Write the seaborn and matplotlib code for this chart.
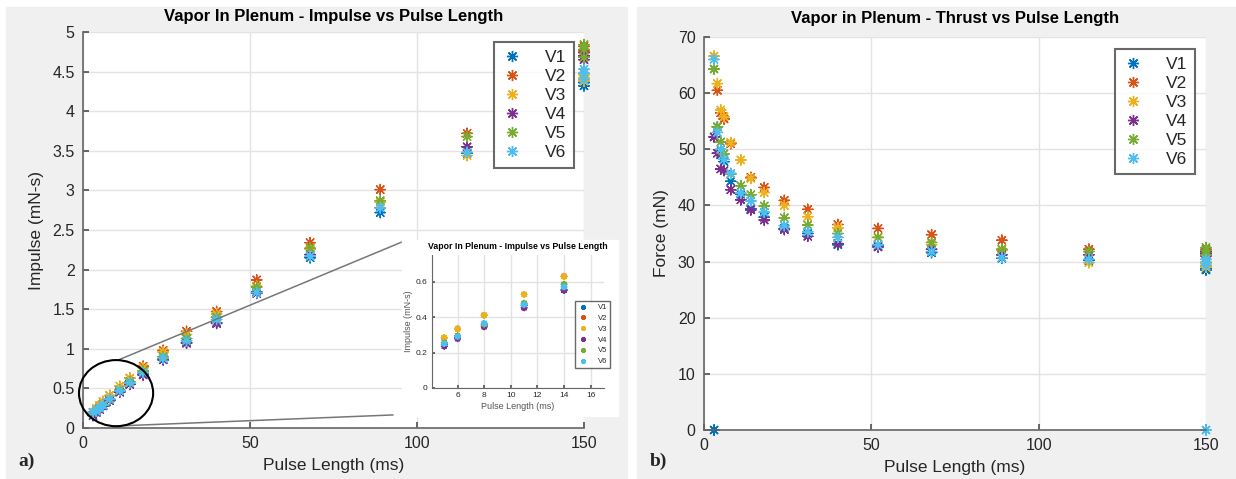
import numpy as np
import pandas as pd
import seaborn as sns
import matplotlib.pyplot as plt
from matplotlib.patches import Ellipse, Rectangle
from matplotlib.ticker import FormatStrFormatter

sns.set_theme(style='whitegrid')
plt.rcParams['font.family'] = ['Liberation Sans', 'DejaVu Sans']

series = ['V1', 'V2', 'V3', 'V4', 'V5', 'V6']
colors = ['#0072BD', '#D95319', '#EDB120', '#7E2F8E', '#77AC30', '#4DBEEE']

# pulse lengths (ms)
pulse = [3, 4, 5, 6, 8, 11, 14, 18, 24, 31, 40, 52, 68, 89, 115, 150]

# impulse (mN-s), read off panel a)
impulse_v1 = [np.nan, 0.215, 0.245, 0.285, 0.355, 0.465, 0.555, 0.68, 0.87, 1.08, 1.33, 1.72, 2.15, 2.72, 3.47, 4.32]
impulse_v2 = [np.nan, 0.24, 0.283, 0.335, 0.41, np.nan, 0.63, 0.78, 0.98, 1.22, 1.47, 1.87, 2.34, 3.01, 3.72, 4.76]
impulse_v3 = [0.2, 0.245, 0.285, 0.333, 0.41, 0.528, 0.628, 0.76, 0.96, 1.18, 1.44, 1.79, 2.26, 2.85, 3.44, 4.42]
impulse_v4 = [0.157, 0.197, 0.235, 0.278, 0.345, 0.452, 0.55, 0.67, 0.86, 1.07, 1.32, 1.70, 2.19, 2.78, 3.55, 4.70]
impulse_v5 = [0.193, 0.216, 0.255, 0.295, 0.36, 0.478, 0.585, 0.72, 0.90, 1.13, 1.40, 1.78, 2.27, 2.87, 3.68, 4.78]
impulse_v6 = [0.198, 0.212, 0.25, 0.29, 0.365, 0.47, 0.57, 0.70, 0.88, 1.10, 1.37, 1.71, 2.17, 2.78, 3.48, 4.48]

# thrust (mN), read off panel b)
force_v1 = [0, 54, 49, 47.8, 44.3, 42, 39.4, 37.9, 35.9, 35, 33, 32.8, 31.6, 30.6, 30.2, 28.7]
force_v2 = [np.nan, 60.5, 56.5, 55.4, 51, np.nan, 45, 43.2, 40.9, 39.3, 36.6, 35.9, 34.8, 33.8, 32.2, 31.7]
force_v3 = [66.6, 61.7, 57, 55.8, 51.2, 48.1, 44.8, 42.3, 40, 38, 36, 34.3, 33, 32, 29.8, 29.3]
force_v4 = [52.2, 49.3, 46.5, 46.2, 42.8, 41, 39.2, 37.4, 35.7, 34.5, 33.2, 32.6, 32.2, 31.2, 31.2, 31.4]
force_v5 = [64.3, 54, 51.3, 49.2, 45.6, 43.5, 41.9, 39.9, 37.8, 36.5, 35, 34.3, 33.4, 32.2, 31.8, 32.0]
force_v6 = [66, 53, 50, 48.2, 45.7, 42.2, 40.8, 38.8, 36.4, 35.3, 34.3, 33, 31.8, 30.7, 30.4, 29.9]

# repeated readings at 150 ms
imp150_v1 = [4.36, 4.40]
imp150_v2 = [4.70, 4.82]
imp150_v3 = [4.38, 4.46]
imp150_v4 = [4.65, 4.74]
imp150_v5 = [4.68, 4.84]
imp150_v6 = [4.40, 4.53]
f150_v1 = [28.5, 29.0]
f150_v2 = [31.3, 32.2]
f150_v3 = [29.0, 29.6]
f150_v4 = [31.0, 31.8]
f150_v5 = [31.2, 32.5]
f150_v6 = [29.3, 30.4, 0]

impulse = [impulse_v1, impulse_v2, impulse_v3, impulse_v4, impulse_v5, impulse_v6]
force = [force_v1, force_v2, force_v3, force_v4, force_v5, force_v6]
imp150 = [imp150_v1, imp150_v2, imp150_v3, imp150_v4, imp150_v5, imp150_v6]
f150 = [f150_v1, f150_v2, f150_v3, f150_v4, f150_v5, f150_v6]

rows_i, rows_f = [], []
for s, imp, fr, ie, fe in zip(series, impulse, force, imp150, f150):
    for p, a, b in zip(pulse, imp, fr):
        rows_i.append((s, p, a))
        rows_f.append((s, p, b))
    rows_i += [(s, 150, v) for v in ie]
    rows_f += [(s, 150, v) for v in fe]
df_i = pd.DataFrame(rows_i, columns=['series', 'pulse', 'impulse']).dropna()
df_f = pd.DataFrame(rows_f, columns=['series', 'pulse', 'force']).dropna()
df_inset = df_i[(df_i.pulse >= 5) & (df_i.pulse <= 16)]

pal = dict(zip(series, colors))
star = (8, 2, 0)
txt = '#262626'

fig = plt.figure(figsize=(12.36, 4.79), dpi=100)
fig.patch.set_facecolor('white')
for x0, w in [(6, 621), (637, 599)]:
    fig.patches.append(Rectangle((x0 / 1236, 1 / 479), w / 1236, 471 / 479,
                                 transform=fig.transFigure, color='#f0f0f0', zorder=-10))


def style_axes(ax, fs=11.5):
    for side in ['top', 'right']:
        ax.spines[side].set_visible(False)
    for side in ['left', 'bottom']:
        ax.spines[side].set_color('#666666')
        ax.spines[side].set_linewidth(1.2)
    ax.grid(True, color='#e3e3e3', lw=1)
    ax.tick_params(direction='in', length=4, color='#555555', left=True, bottom=True,
                   labelsize=fs, labelcolor=txt, pad=6)
    ax.set_facecolor('white')


def make_legend(ax, anchor, fs=12.5, ms=8, spacing=0.22, bpad=0.45):
    h, l = ax.get_legend_handles_labels()
    for hh in h:
        hh.set_markersize(ms)
        hh.set_markeredgewidth(1.0)
    leg = ax.legend(h, l, loc='upper right', bbox_to_anchor=anchor, fontsize=fs,
                    frameon=True, fancybox=False, labelspacing=spacing,
                    handletextpad=1.3, borderpad=bpad, handlelength=1.2,
                    borderaxespad=0)
    leg.get_frame().set_edgecolor('#444444')
    leg.get_frame().set_linewidth(1.5)
    for t in leg.get_texts():
        t.set_color(txt)
    return leg


# panel a)
ax1 = fig.add_axes([83 / 1236, 51 / 479, 501 / 1236, 396 / 479])
sns.scatterplot(data=df_i, x='pulse', y='impulse', hue='series', palette=pal,
                marker=star, s=55, linewidth=1.0, ax=ax1)
ax1.set_xlim(0, 150)
ax1.set_ylim(0, 5)
ax1.set_xticks([0, 50, 100, 150])
ax1.set_yticks(np.arange(0, 5.01, 0.5))
ax1.yaxis.set_major_formatter(FormatStrFormatter('%g'))
style_axes(ax1)
ax1.set_xlabel('Pulse Length (ms)', fontsize=12.5, color=txt, labelpad=5)
ax1.set_ylabel('Impulse (mN-s)', fontsize=12.5, color=txt, labelpad=6)
ax1.set_title('Vapor In Plenum - Impulse vs Pulse Length', fontsize=12,
              fontweight='bold', color='black', pad=8)
make_legend(ax1, (0.98, 0.975))

# zoom callout
ax1.add_patch(Ellipse((0.066, 0.088), 0.148, 0.167, transform=ax1.transAxes,
                      fill=False, ec='black', lw=1.5, clip_on=False, zorder=5))
ax1.plot([0.071, 0.637], [0.172, 0.470], transform=ax1.transAxes, color='#777777', lw=1.1, zorder=4)
ax1.plot([0.067, 0.619], [0.005, 0.033], transform=ax1.transAxes, color='#777777', lw=1.1, zorder=4)

# inset
fig.patches.append(Rectangle((402 / 1236, 63 / 479), 216 / 1236, 176 / 479,
                             transform=fig.transFigure, color='white', zorder=2))
axi = fig.add_axes([432 / 1236, 91 / 479, 172 / 1236, 133 / 479], zorder=3)
sns.scatterplot(data=df_inset, x='pulse', y='impulse', hue='series', palette=pal,
                marker=star, s=14, linewidth=1.2, ax=axi)
axi.set_xlim(4.08, 17)
axi.set_ylim(0, 0.75)
axi.set_xticks([6, 8, 10, 12, 14, 16])
axi.set_yticks([0, 0.2, 0.4, 0.6])
axi.yaxis.set_major_formatter(FormatStrFormatter('%g'))
style_axes(axi, fs=6)
axi.tick_params(length=2, pad=3)
axi.spines['left'].set_linewidth(0.8)
axi.spines['bottom'].set_linewidth(0.8)
axi.set_xlabel('Pulse Length (ms)', fontsize=6.5, color='#555555', labelpad=2)
axi.set_ylabel('Impulse (mN-s)', fontsize=6.5, color='#555555', labelpad=2)
axi.set_title('Vapor In Plenum - Impulse vs Pulse Length', fontsize=6.3,
              fontweight='bold', color='black', pad=4)
leg_i = make_legend(axi, (1.035, 0.655), fs=5.5, ms=3.5, spacing=0.45, bpad=0.4)
leg_i.get_frame().set_linewidth(1.0)

# panel b)
ax2 = fig.add_axes([704 / 1236, 49 / 479, 502 / 1236, 393 / 479])
sns.scatterplot(data=df_f, x='pulse', y='force', hue='series', palette=pal,
                marker=star, s=55, linewidth=1.0, ax=ax2)
ax2.set_xlim(0, 150)
ax2.set_ylim(0, 70)
ax2.set_xticks([0, 50, 100, 150])
ax2.set_yticks(np.arange(0, 71, 10))
style_axes(ax2)
ax2.set_xlabel('Pulse Length (ms)', fontsize=12.5, color=txt, labelpad=5)
ax2.set_ylabel('Force (mN)', fontsize=12.5, color=txt, labelpad=6)
ax2.set_title('Vapor in Plenum - Thrust vs Pulse Length', fontsize=12,
              fontweight='bold', color='black', pad=10)
make_legend(ax2, (0.978, 0.97))

for ax in (ax1, ax2):
    for c in ax.collections:
        c.set_clip_on(False)

fig.text(18 / 1236, 0.036, 'a)', fontsize=14, fontweight='bold', family='Liberation Serif', va='center')
fig.text(650 / 1236, 0.036, 'b)', fontsize=14, fontweight='bold', family='Liberation Serif', va='center')

fig.savefig('out.png', dpi=100, facecolor='white')
